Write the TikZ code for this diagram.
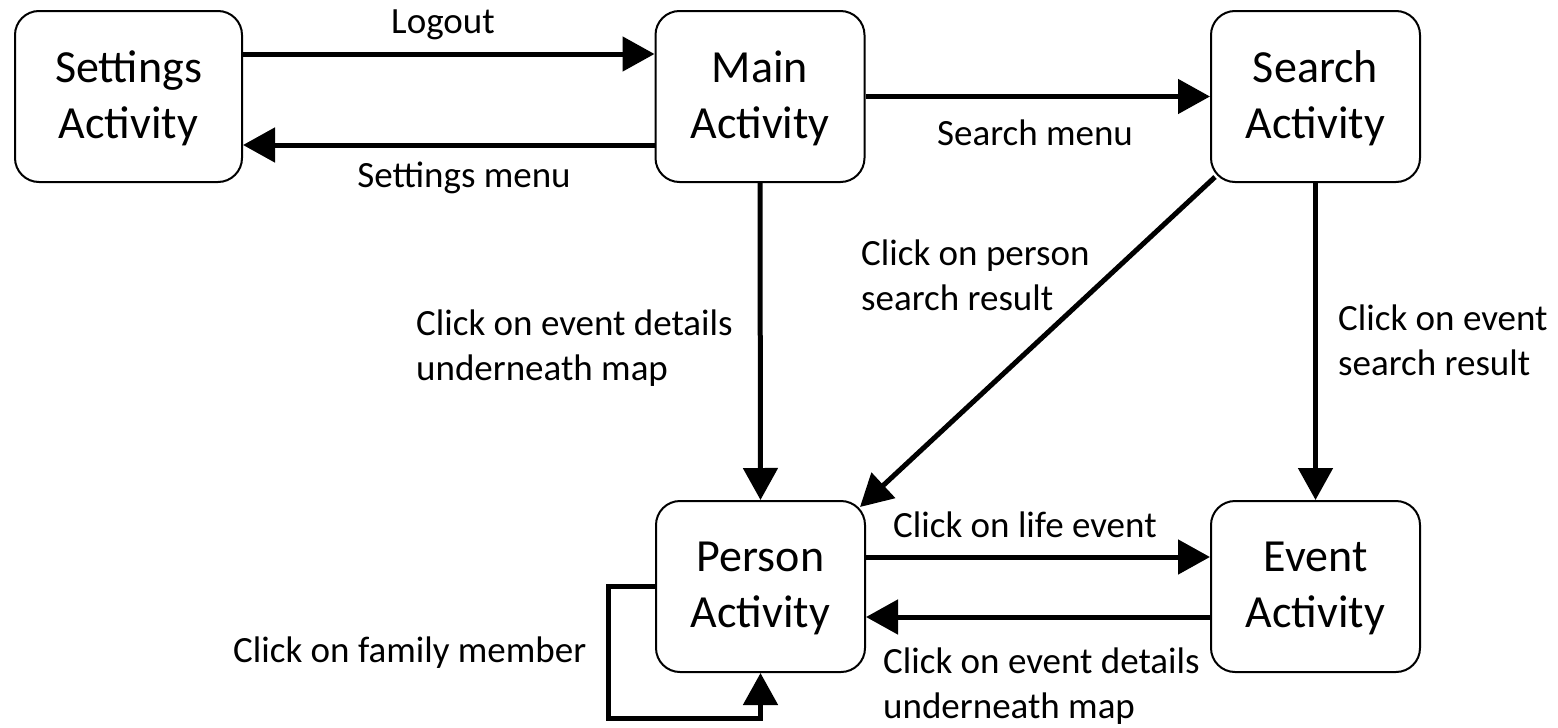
\documentclass[tikz,border=0pt]{standalone}
\usepackage{fontspec}
\setmainfont{Carlito}
\usetikzlibrary{arrows.meta}
\begin{document}
\begin{tikzpicture}[x=1pt,y=-1pt,
  activity/.style={draw, line width=2pt, rounded corners=24pt,
    minimum width=209pt, minimum height=171pt, inner sep=0pt,
    text depth=3pt, align=center, font=\fontsize{46}{56}\selectfont},
  flow/.style={line width=5pt, -{Triangle[length=32pt,width=34pt]}},
  lbl/.style={inner sep=0pt, align=left, font=\fontsize{37}{45}\selectfont}]
\useasboundingbox (0,0) rectangle (1558,728);

% activities
\node[activity, minimum width=227pt] (settings) at (128.5,96.5) {Settings\\Activity};
\node[activity] (main)   at (760,96.5)    {Main\\Activity};
\node[activity] (search) at (1315.5,96.5) {Search\\Activity};
\node[activity] (person) at (760.5,586.5) {Person\\Activity};
\node[activity] (event)  at (1315.5,586.5) {Event\\Activity};

% transitions
\draw[flow] ([yshift=42.5pt]settings.east) -- ([yshift=42.5pt]main.west);
\draw[flow] ([yshift=-48.5pt]main.west) -- ([yshift=-48.5pt]settings.east);
\draw[flow] (main.east) -- (search.west);
\draw[flow] (main.south) -- (person.north);
\draw[flow] (search.south) -- (event.north);
\draw[flow] ([xshift=5pt,yshift=6pt]search.south west) -- ([xshift=-6pt,yshift=-7pt]person.north east);
\draw[flow] ([yshift=29.5pt]person.east) -- ([yshift=29.5pt]event.west);
\draw[flow] ([yshift=-30.5pt]event.west) -- ([yshift=-30.5pt]person.east);
\coordinate (loopcorner) at (608,718);
\draw[flow] (person.west) -| (loopcorner) -| (person.south);

% transition labels (base anchor = baseline of the last line)
\node[lbl, anchor=base] (tlogout)   at (443,33)   {Logout};
\node[lbl, anchor=base] (tsettings) at (464,187)  {Settings menu};
\node[lbl, anchor=base] (tsearch)   at (1035,145) {Search menu};
\node[lbl, anchor=base west] (tdetails) at (416,380) {Click on event details\\underneath map};
\node[lbl, anchor=base west] (tperson)  at (861,310) {Click on person\\search result};
\node[lbl, anchor=base west] (tevent)   at (1338,375) {Click on event\\search result};
\node[lbl, anchor=base west] (tfamily)  at (233,662) {Click on family member};
\node[lbl, anchor=base west] (tlife)    at (893,537) {Click on life event};
\node[lbl, anchor=base west] (tback)    at (883,718) {Click on event details\\underneath map};
\end{tikzpicture}
\end{document}
